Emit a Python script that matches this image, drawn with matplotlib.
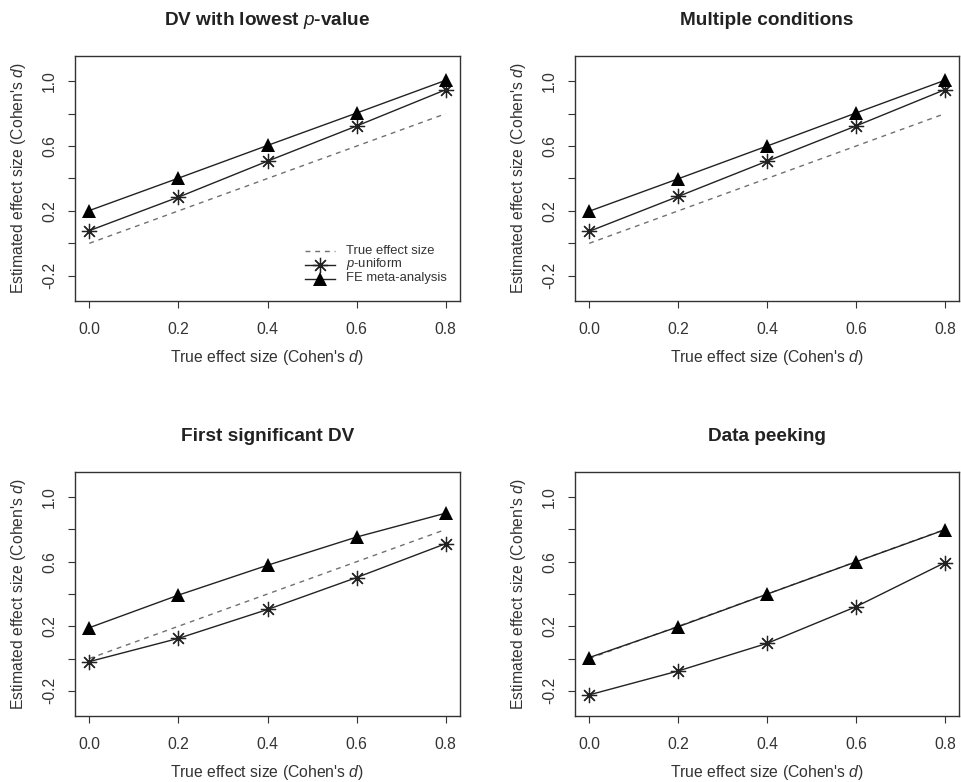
import matplotlib
matplotlib.use("Agg")
import matplotlib.pyplot as plt

plt.rcParams['font.family'] = ['Liberation Sans', 'DejaVu Sans']
plt.rcParams['mathtext.fontset'] = 'custom'
plt.rcParams['mathtext.rm'] = 'Liberation Sans'
plt.rcParams['mathtext.it'] = 'Liberation Sans:italic'
plt.rcParams['mathtext.bf'] = 'Liberation Sans:bold'

# true effect sizes (x axis)
true_d = [0.0, 0.2, 0.4, 0.6, 0.8]

titles = ["DV with lowest $p$-value", "Multiple conditions",
          "First significant DV", "Data peeking"]

# estimates
puniform = [
    [0.078, 0.285, 0.507, 0.724, 0.948],
    [0.074, 0.289, 0.507, 0.724, 0.948],
    [-0.019, 0.125, 0.304, 0.502, 0.712],
    [-0.225, -0.077, 0.094, 0.321, 0.594],
]
fe_meta = [
    [0.202, 0.402, 0.604, 0.804, 1.006],
    [0.198, 0.398, 0.600, 0.804, 1.006],
    [0.191, 0.393, 0.578, 0.753, 0.901],
    [0.006, 0.197, 0.399, 0.599, 0.798],
]

legend_labels = ["True effect size", "$p$-uniform", "FE meta-analysis"]

yticks = [-0.2, 0.0, 0.2, 0.4, 0.6, 0.8, 1.0]
ytick_labels = ["-0.2", "", "0.2", "", "0.6", "", "1.0"]
xtick_labels = ["0.0", "0.2", "0.4", "0.6", "0.8"]

txt = '#333333'
W, H = 962, 782
fig = plt.figure(figsize=(W / 100, H / 100), dpi=100)

# panel boxes in pixels: left, top, right, bottom
boxes = [(75, 56, 460, 301), (575, 56, 959, 301),
         (75, 472, 460, 716), (575, 472, 959, 716)]

ast = (8, 2, 0)  # R pch=8 style asterisk
dash_kw = dict(color='#707070', lw=1.0, dashes=(3.5, 3.5))
pu_kw = dict(color='#222222', lw=1.0, marker=ast, markersize=11,
             markeredgewidth=0.9)
fe_kw = dict(color='#222222', lw=1.0, marker='^', markersize=9.5,
             markeredgewidth=0, markerfacecolor='black')

for i, (l, t, r, b) in enumerate(boxes):
    ax = fig.add_axes([l / W, (H - b) / H, (r - l) / W, (b - t) / H])
    ax.plot(true_d, true_d, **dash_kw)
    ax.plot(true_d, puniform[i], **pu_kw)
    ax.plot(true_d, fe_meta[i], **fe_kw)
    ax.set_xlim(-0.032, 0.832)
    ax.set_ylim(-0.356, 1.156)
    ax.set_xticks(true_d)
    ax.set_xticklabels(xtick_labels)
    ax.set_yticks(yticks)
    ax.set_yticklabels(ytick_labels, rotation=90, va='center')
    ax.tick_params(length=5, width=0.8, colors=txt, labelsize=11.3, pad=10)
    ax.tick_params(axis='y', pad=8)
    for s in ax.spines.values():
        s.set_color(txt)
        s.set_linewidth(1.0)
    ax.set_xlabel("True effect size (Cohen's $d$)", fontsize=11.3, color=txt,
                  labelpad=8)
    ax.set_ylabel("Estimated effect size (Cohen's $d$)", fontsize=11.3,
                  color=txt, labelpad=10)
    ax.set_title(titles[i], fontsize=13.7, fontweight='bold', color='#222222',
                 pad=22)

    if i == 0:
        # hand-made legend, R style: tight rows, no frame
        w, h = r - l, b - t
        hx0, hx1, tx = (305 - l) / w, (335 - l) / w, (346 - l) / w
        rows = [(b - 250.5) / h, (b - 264.5) / h, (b - 278.5) / h]
        styles = [dash_kw, pu_kw, fe_kw]
        for yy, st, lab in zip(rows, styles, legend_labels):
            ax.plot([hx0, hx1], [yy, yy], transform=ax.transAxes,
                    clip_on=False, **{kk: vv for kk, vv in st.items()
                                      if kk != 'marker'})
            if 'marker' in st:
                ax.plot([(hx0 + hx1) / 2], [yy], transform=ax.transAxes,
                        clip_on=False, linestyle='none', **st)
            ax.text(tx, yy, lab, transform=ax.transAxes, fontsize=9.4,
                    color=txt, va='center', ha='left')

fig.savefig("out.png", dpi=100)
